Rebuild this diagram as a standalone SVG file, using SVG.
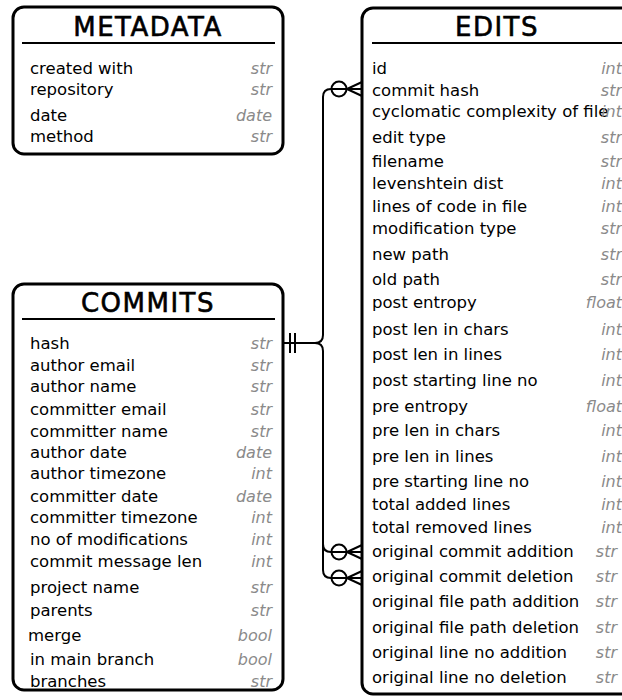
<svg xmlns="http://www.w3.org/2000/svg" width="622" height="700" viewBox="0 0 622 700">
<style>
.box{fill:#fff;stroke:#000;stroke-width:3}
.rule{stroke:#000;stroke-width:2}
.title{font-family:"DejaVu Sans",sans-serif;font-size:26px;letter-spacing:1.5px;text-anchor:middle;fill:#000;stroke:#000;stroke-width:0.6}
.f{font-family:"DejaVu Sans",sans-serif;font-size:16.5px;fill:#000}
.t{font-family:"DejaVu Sans",sans-serif;font-size:16px;font-style:italic;fill:#8a8a8a;text-anchor:end}
.c{fill:none;stroke:#000;stroke-width:2}
</style>
<defs>
<g id="crow">
<circle cx="-23" cy="0" r="7.5" class="c"/>
<path d="M-15,0 L0,-7 M-15,0 L0,0 M-15,0 L0,7" class="c"/>
</g>
</defs>

<g id="connectors">
<path class="c" d="M283,343 H315 Q323,343 323,335 V97 Q323,89 331,89 H362"/>
<path class="c" d="M283,343 H315 Q323,343 323,351 V544 Q323,552 331,552 H362"/>
<path class="c" d="M323,544 V570 Q323,578 331,578 H362"/>
<path class="c" d="M290,333 V353 M295,333 V353"/>
<use href="#crow" x="362" y="89"/>
<use href="#crow" x="362" y="552"/>
<use href="#crow" x="362" y="578"/>
</g>

<g id="metadata">
<rect class="box" x="13" y="7" width="270" height="147" rx="11"/>
<text class="title" x="148" y="36">METADATA</text>
<line class="rule" x1="22" y1="43" x2="275" y2="43"/>
<text class="f" x="30" y="74">created with</text><text class="t" x="272" y="74">str</text>
<text class="f" x="30" y="95">repository</text><text class="t" x="272" y="95">str</text>
<text class="f" x="30" y="120.5">date</text><text class="t" x="272" y="120.5">date</text>
<text class="f" x="30" y="141.5">method</text><text class="t" x="272" y="141.5">str</text>
</g>

<g id="commits">
<rect class="box" x="13" y="284" width="270" height="406" rx="11"/>
<text class="title" x="148" y="311.5">COMMITS</text>
<line class="rule" x1="22" y1="319" x2="275" y2="319"/>
<text class="f" x="30" y="349">hash</text><text class="t" x="272" y="349">str</text>
<text class="f" x="30" y="370.5">author email</text><text class="t" x="272" y="370.5">str</text>
<text class="f" x="30" y="391.5">author name</text><text class="t" x="272" y="391.5">str</text>
<text class="f" x="30" y="415">committer email</text><text class="t" x="272" y="415">str</text>
<text class="f" x="30" y="436.5">committer name</text><text class="t" x="272" y="436.5">str</text>
<text class="f" x="30" y="457.5">author date</text><text class="t" x="272" y="457.5">date</text>
<text class="f" x="30" y="479">author timezone</text><text class="t" x="272" y="479">int</text>
<text class="f" x="30" y="501.5">committer date</text><text class="t" x="272" y="501.5">date</text>
<text class="f" x="30" y="523">committer timezone</text><text class="t" x="272" y="523">int</text>
<text class="f" x="30" y="545">no of modifications</text><text class="t" x="272" y="545">int</text>
<text class="f" x="30" y="567">commit message len</text><text class="t" x="272" y="567">int</text>
<text class="f" x="30" y="592.5">project name</text><text class="t" x="272" y="592.5">str</text>
<text class="f" x="30" y="615.5">parents</text><text class="t" x="272" y="615.5">str</text>
<text class="f" x="28" y="640.5">merge</text><text class="t" x="272" y="640.5">bool</text>
<text class="f" x="30" y="665">in main branch</text><text class="t" x="272" y="665">bool</text>
<text class="f" x="30" y="686.5">branches</text><text class="t" x="272" y="686.5">str</text>
</g>

<g id="edits">
<rect class="box" x="362" y="8" width="272" height="686" rx="11"/>
<text class="title" x="497" y="36">EDITS</text>
<line class="rule" x1="372" y1="43" x2="630" y2="43"/>
<text class="f" x="372" y="74">id</text><text class="t" x="622" y="74">int</text>
<text class="f" x="372" y="95.5">commit hash</text><text class="t" x="622" y="95.5">str</text>
<text class="f" x="372" y="117">cyclomatic complexity of file</text><text class="t" x="622" y="117">int</text>
<text class="f" x="372" y="143">edit type</text><text class="t" x="622" y="143">str</text>
<text class="f" x="372" y="166.5">filename</text><text class="t" x="622" y="166.5">str</text>
<text class="f" x="372" y="189">levenshtein dist</text><text class="t" x="622" y="189">int</text>
<text class="f" x="372" y="211.5">lines of code in file</text><text class="t" x="622" y="211.5">int</text>
<text class="f" x="372" y="234">modification type</text><text class="t" x="622" y="234">str</text>
<text class="f" x="372" y="260">new path</text><text class="t" x="622" y="260">str</text>
<text class="f" x="372" y="285">old path</text><text class="t" x="622" y="285">str</text>
<text class="f" x="372" y="308">post entropy</text><text class="t" x="622" y="308">float</text>
<text class="f" x="372" y="335">post len in chars</text><text class="t" x="622" y="335">int</text>
<text class="f" x="372" y="360">post len in lines</text><text class="t" x="622" y="360">int</text>
<text class="f" x="372" y="386">post starting line no</text><text class="t" x="622" y="386">int</text>
<text class="f" x="372" y="411.5">pre entropy</text><text class="t" x="622" y="411.5">float</text>
<text class="f" x="372" y="436">pre len in chars</text><text class="t" x="622" y="436">int</text>
<text class="f" x="372" y="461.5">pre len in lines</text><text class="t" x="622" y="461.5">int</text>
<text class="f" x="372" y="487">pre starting line no</text><text class="t" x="622" y="487">int</text>
<text class="f" x="372" y="510">total added lines</text><text class="t" x="622" y="510">int</text>
<text class="f" x="372" y="532.5">total removed lines</text><text class="t" x="622" y="532.5">int</text>
<text class="f" x="372" y="556.5">original commit addition</text><text class="t" x="617" y="556.5">str</text>
<text class="f" x="372" y="581.5">original commit deletion</text><text class="t" x="617" y="581.5">str</text>
<text class="f" x="372" y="607">original file path addition</text><text class="t" x="617" y="607">str</text>
<text class="f" x="372" y="633">original file path deletion</text><text class="t" x="617" y="633">str</text>
<text class="f" x="372" y="658">original line no addition</text><text class="t" x="617" y="658">str</text>
<text class="f" x="372" y="683">original line no deletion</text><text class="t" x="617" y="683">str</text>
</g>
</svg>
